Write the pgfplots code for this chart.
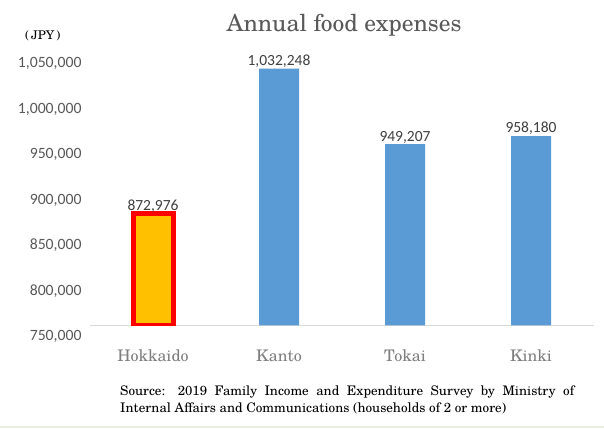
\documentclass[border=0pt]{standalone}
\usepackage{fontspec}
\setmainfont{TeX Gyre Schola}
\usepackage{pgfplots}
\pgfplotsset{compat=1.18}
\newfontfamily\carlito{Carlito}

\definecolor{barblue}{HTML}{5B9BD5}
\definecolor{baryellow}{HTML}{FFC000}
\definecolor{tickgray}{HTML}{595959}
\definecolor{catgray}{HTML}{7F7F7F}
\definecolor{lblgray}{HTML}{404040}
\definecolor{basegray}{HTML}{D9D9D9}
\definecolor{footline}{HTML}{E6EFE2}

\begin{document}
\begin{tikzpicture}
\useasboundingbox (0,0) rectangle (604pt,428pt);
\fill[white] (0,0) rectangle (604pt,428pt);

\begin{axis}[
    at={(90pt,102.5pt)}, anchor=south west,
    scale only axis,
    width=504pt, height=273pt,
    xmin=-0.5, xmax=3.5,
    ymin=750000, ymax=1050000,
    ytick={750000,800000,850000,900000,950000,1000000,1050000},
    xtick={0,1,2,3},
    xticklabels={Hokkaido, Kanto, Tokai, Kinki},
    scaled y ticks=false,
    /pgf/number format/assume math mode=true,
    /pgf/number format/fixed,
    /pgf/number format/1000 sep={,},
    axis x line*=bottom, axis y line*=left,
    axis line style={-},
    y axis line style={draw=none},
    x axis line style={draw=basegray, line width=1.5pt},
    major tick length=0pt,
    tick style={draw=none},
    yticklabel style={font=\carlito\fontsize{15.7}{18}\selectfont, text=tickgray, anchor=east, xshift=-5pt, yshift=-11pt},
    xticklabel style={font=\fontsize{16}{19}\selectfont, text=catgray, yshift=-21pt},
    nodes near coords,
    every node near coord/.append style={font=\carlito\fontsize{15.5}{18}\selectfont, text=lblgray, inner sep=1pt},
]
% Hokkaido
\addplot[ybar, bar width=40pt, bar shift=0pt, fill=baryellow, draw=red, line width=5pt,
    every node near coord/.append style={yshift=-2pt}]
    coordinates {(0,872976)};
% Kanto, Tokai, Kinki
\addplot[ybar, bar width=40pt, bar shift=0pt, fill=barblue, draw=none]
    coordinates {(1,1032248) (2,949207) (3,958180)};
\end{axis}

\node[anchor=base, text=tickgray, font=\fontsize{23.5}{27}\selectfont] at (344pt,396pt) {Annual food expenses};
\node[anchor=base west, inner sep=0pt, font=\fontsize{12}{14}\selectfont] at (25pt,388pt) {(\,JPY\,)};
\node[anchor=base west, inner sep=0pt, font=\fontsize{13.2}{15}\selectfont] at (120pt,33pt)
    {\makebox[454pt][s]{Source: 2019 Family Income and Expenditure Survey by Ministry of}};
\node[anchor=base west, inner sep=0pt, font=\fontsize{13.2}{15}\selectfont] at (120pt,16pt)
    {Internal Affairs and Communications (households of 2 or more)};
\draw[footline, line width=2pt] (0,1pt) -- (604pt,1pt);
\end{tikzpicture}
\end{document}
